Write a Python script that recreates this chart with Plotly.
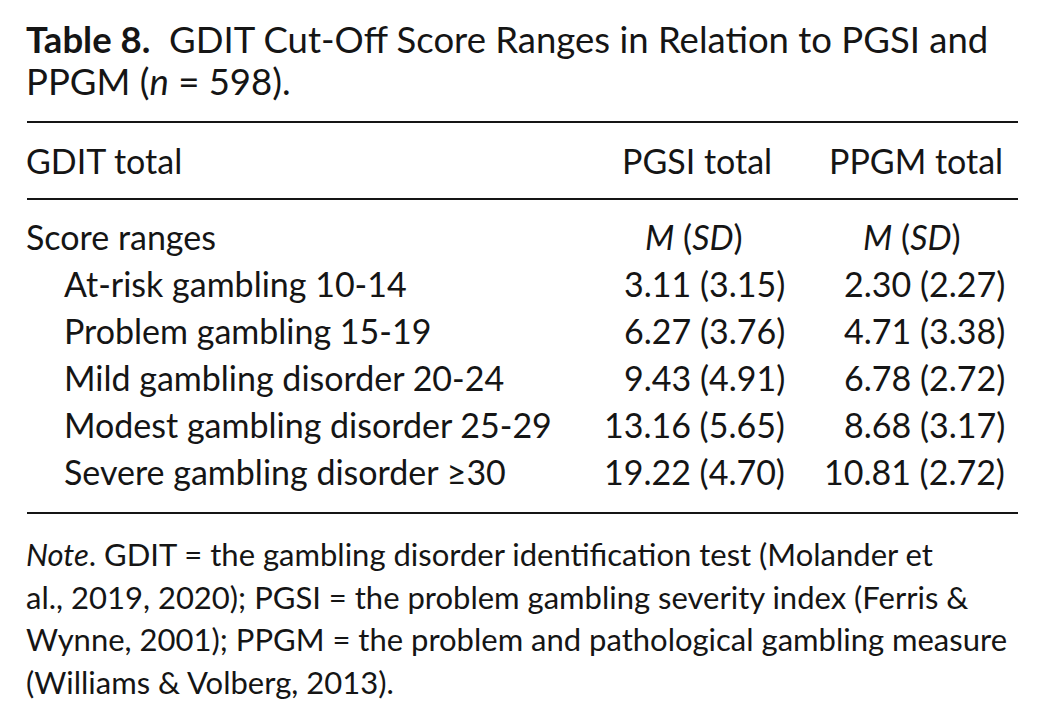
import plotly.graph_objects as go

# ── Data ──────────────────────────────────────────────────
title_bold = "Table 8."
title_rest = "GDIT Cut-Off Score Ranges in Relation to PGSI and"
title_line2 = "PPGM (<i>n</i> = 598)."

col_headers = ["GDIT total", "PGSI total", "PPGM total"]
sub_header = ["Score ranges", "<i>M</i> (<i>SD</i>)", "<i>M</i> (<i>SD</i>)"]

ranges = [
    "At-risk gambling 10-14",
    "Problem gambling 15-19",
    "Mild gambling disorder 20-24",
    "Modest gambling disorder 25-29",
    "Severe gambling disorder ≥30",
]
pgsi_m = [3.11, 6.27, 9.43, 13.16, 19.22]
pgsi_sd = [3.15, 3.76, 4.91, 5.65, 4.70]
ppgm_m = [2.30, 4.71, 6.78, 8.68, 10.81]
ppgm_sd = [2.27, 3.38, 2.72, 3.17, 2.72]

note_lines = [
    "<i>Note</i>. GDIT = the gambling disorder identification test (Molander et",
    "al., 2019, 2020); PGSI = the problem gambling severity index (Ferris &",
    "Wynne, 2001); PPGM = the problem and pathological gambling measure",
    "(Williams & Volberg, 2013).",
]

# ── Figure ────────────────────────────────────────────────
FONT = "Lato"
INK = "#151515"
SIZE = 34
OFF = 8  # page body margin

fig = go.Figure()
fig.add_trace(go.Scatter(x=[0, 1044], y=[0, 720], mode="markers",
                         marker=dict(opacity=0), hoverinfo="skip",
                         showlegend=False))

ann = []


def txt(x, y, text, anchor="left", size=SIZE):
    ann.append(dict(x=x, y=y, xref="x", yref="y", text=text, showarrow=False,
                    xanchor=anchor, yanchor="middle", borderpad=0,
                    font=dict(family=FONT, size=size, color=INK)))


# title
txt(25, 39, f"<b>{title_bold}</b>  {title_rest}", size=36.5)
txt(25, 81, title_line2, size=36.5)

# header
txt(25, 160, col_headers[0])
txt(773, 160, col_headers[1], "right")
txt(1004, 160, col_headers[2], "right")

txt(25, 236, sub_header[0])
txt(694, 236, sub_header[1], "center")
txt(912, 236, sub_header[2], "center")

# rows
for i, lab in enumerate(ranges):
    y = 283 + i * 47
    txt(63, y, lab)
    txt(786, y, f"{pgsi_m[i]:.2f} ({pgsi_sd[i]:.2f})", "right")
    txt(1006, y, f"{ppgm_m[i]:.2f} ({ppgm_sd[i]:.2f})", "right")

# note
for i, line in enumerate(note_lines):
    txt(25, 554 + i * 42.5, line, size=31)

fig.update_layout(annotations=ann)

# rules
for y in [122, 199, 513]:
    fig.add_shape(type="line", x0=27, x1=1018, y0=y, y1=y, xref="x", yref="y",
                  line=dict(color=INK, width=2))

fig.update_xaxes(range=[OFF, 1044 + OFF], visible=False, fixedrange=True)
fig.update_yaxes(range=[720 + OFF, OFF], visible=False, fixedrange=True)
fig.update_layout(
    width=1044, height=720,
    margin=dict(l=0, r=0, t=0, b=0),
    paper_bgcolor="white", plot_bgcolor="white",
    showlegend=False,
)

fig.write_html("out.html", config=dict(displayModeBar=False))
